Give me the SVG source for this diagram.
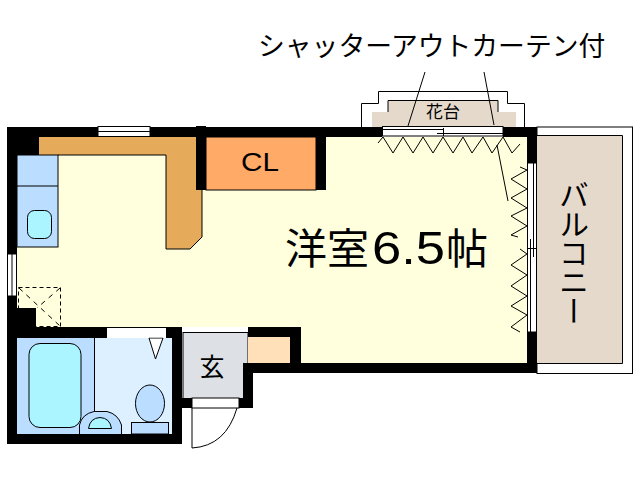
<svg xmlns="http://www.w3.org/2000/svg" width="638" height="480" viewBox="0 0 638 480">
<style>
.l{fill:none;stroke:#000;stroke-width:1}
.o{stroke:#000;stroke-width:1}
.w{fill:#000}
.win{fill:#fff;stroke:#000;stroke-width:1}
text{fill:#000;font-family:"Noto Sans CJK JP","Liberation Sans",sans-serif}
</style>
<rect width="638" height="480" fill="#fff"/>
<g id="room">
<path d="M17 137H528V363H301V327H17Z" fill="#ffffdd"/>
<text x="285" y="264" font-size="42">洋室</text>
<text x="372" y="264" font-size="46" textLength="73" lengthAdjust="spacingAndGlyphs" style="font-family:'Liberation Sans',sans-serif">6.5</text>
<text x="446" y="264" font-size="42">帖</text>
</g>
<g id="counter">
<path d="M39 137H196V190H202V237L190 249H166V155H39Z" fill="#e5aa5a"/>
<path d="M58 155H166V249H190L202 237V190" class="l"/>
</g>
<g id="closet">
<rect x="206" y="137" width="110" height="53" fill="#ffaa66" class="o"/>
<text x="241" y="171" font-size="25" textLength="38" lengthAdjust="spacingAndGlyphs" style="font-family:'Liberation Sans',sans-serif">CL</text>
</g>
<g id="kitchen">
<rect x="17" y="155" width="41" height="92" fill="#bbddff" class="o"/>
<path d="M17 186H58" class="l"/>
<rect x="27.500" y="210.500" width="24" height="28" rx="7" fill="#aaf5ff" class="o"/>
<rect x="18.500" y="287.500" width="42" height="39" fill="none" stroke="#000" stroke-dasharray="4 3"/>
<path d="M19 288L60 326M60 288L37 308" fill="none" stroke="#000" stroke-dasharray="5 5"/>
</g>
<g id="bath">
<rect x="17" y="338" width="78" height="96" fill="#bbddff"/>
<rect x="95" y="338" width="77" height="96" fill="#ddf0ff"/>
<path d="M94.500 338V411" class="l"/>
<rect x="29" y="343.500" width="52" height="84" rx="11" fill="#aaf5ff" class="o"/>
<path d="M79.500 434V425Q82 414 94 411.500H107Q118 414 121.500 425V434" fill="#bbddff" class="o"/>
<path d="M88.500 428.500Q90 418 100 417.500Q110 418 111.500 428.500Z" fill="#aaf5ff" class="o"/>
<path d="M149 338L155.500 359L163 338Z" fill="#fff" class="o"/>
<ellipse cx="150" cy="403.500" rx="14.500" ry="18.500" fill="#bbddff" class="o"/>
<rect x="131.500" y="422.500" width="37" height="11.500" fill="#bbddff" class="o"/>
</g>
<g id="entrance">
<rect x="183" y="332.500" width="65" height="66" fill="#dde0e4" class="o"/>
<rect x="248" y="337" width="42" height="26" fill="#ffe0b8"/>
<text x="199.500" y="376" font-size="25">玄</text>
</g>
<g id="planter">
<path d="M372 127V112H388V100H498V112H516V127Z" fill="#e5d9cc"/>
<path d="M388 112V100.500H498V112" class="l"/>
<path d="M361.500 127V103.500H378.500V91.500H507.500V103.500H524.500V127" class="l"/>
<text x="426" y="118" font-size="17">花台</text>
</g>
<g id="balcony">
<rect x="537" y="127" width="95.500" height="246.500" fill="#fff" class="o"/>
<rect x="537" y="135" width="85" height="228" fill="#e5d9cc"/>
<path d="M537 135.500H622.500V363.500H537" class="l"/>
<text x="574" y="180" font-size="30" writing-mode="vertical-rl" text-anchor="start" letter-spacing="-1">バルコニー</text>
</g>
<g id="walls" class="w">
<path d="M7 127H98V137H39V155H17V254H7Z"/>
<rect x="150" y="127" width="46" height="10"/>
<rect x="196" y="126" width="10" height="64"/>
<rect x="206" y="127" width="176" height="10"/>
<rect x="316" y="127" width="10" height="63"/>
<rect x="503" y="127" width="34" height="10"/>
<rect x="527" y="127" width="10" height="36"/>
<rect x="527" y="332" width="10" height="41"/>
<path d="M7 296H17V308H36V327H107V338H17V434H172V327H182V444H7Z"/>
<rect x="166" y="327" width="16" height="11"/>
<rect x="248" y="327" width="53" height="10"/>
<rect x="290" y="337" width="11" height="26"/>
<rect x="243" y="363" width="294" height="10"/>
<rect x="243" y="373" width="10" height="35"/>
<rect x="239" y="398" width="14" height="10"/>
<rect x="182" y="398" width="10" height="10"/>
<rect x="172" y="404" width="10" height="40"/>
</g>
<g id="windows">
<rect x="98" y="126.500" width="52" height="10" class="win"/><path d="M98 131.500H150" class="l"/>
<rect x="7.500" y="254" width="9" height="42" class="win"/><path d="M12 254V296" class="l"/>
<rect x="107" y="328" width="59" height="9.500" fill="#fff"/>
<path d="M107 327.500H166" class="l"/>
<rect x="192" y="398" width="47" height="10" class="win"/>
<rect x="382.500" y="126.500" width="120.500" height="9.500" fill="#fff" class="o"/>
<path d="M383 129.500H443M437 133.500H503M443.500 128V136" class="l"/>
<rect x="527.500" y="163" width="9" height="169" class="win"/>
<path d="M533.500 163V257M530.500 239V332M528 248.500H536" class="l"/>
</g>
<g id="connectors">
<path d="M425 72L408 126" class="l"/>
<path d="M484 72L494 125M497 145L508 201" class="l"/>
<path d="M378 143L383 137L393 153L403 137L413 153L423 137L433 153L443 137L453 153L463 137L472 153L483 137L492 153L503 137L512 153L520 144" class="l"/>
<path d="M520 167L527 170L511 179L527 189L511 198L527 208L511 216L527 226L511 235L518 237" class="l"/>
<path d="M520 249L527 254L511 265L527 275L511 286L527 296L511 306L527 315L511 327L520 332" class="l"/>
<text x="258" y="56" font-size="26.800">シャッターアウトカーテン付</text>
</g>
<path d="M192 408V448Q226 446 237 408" class="l"/>
</svg>
